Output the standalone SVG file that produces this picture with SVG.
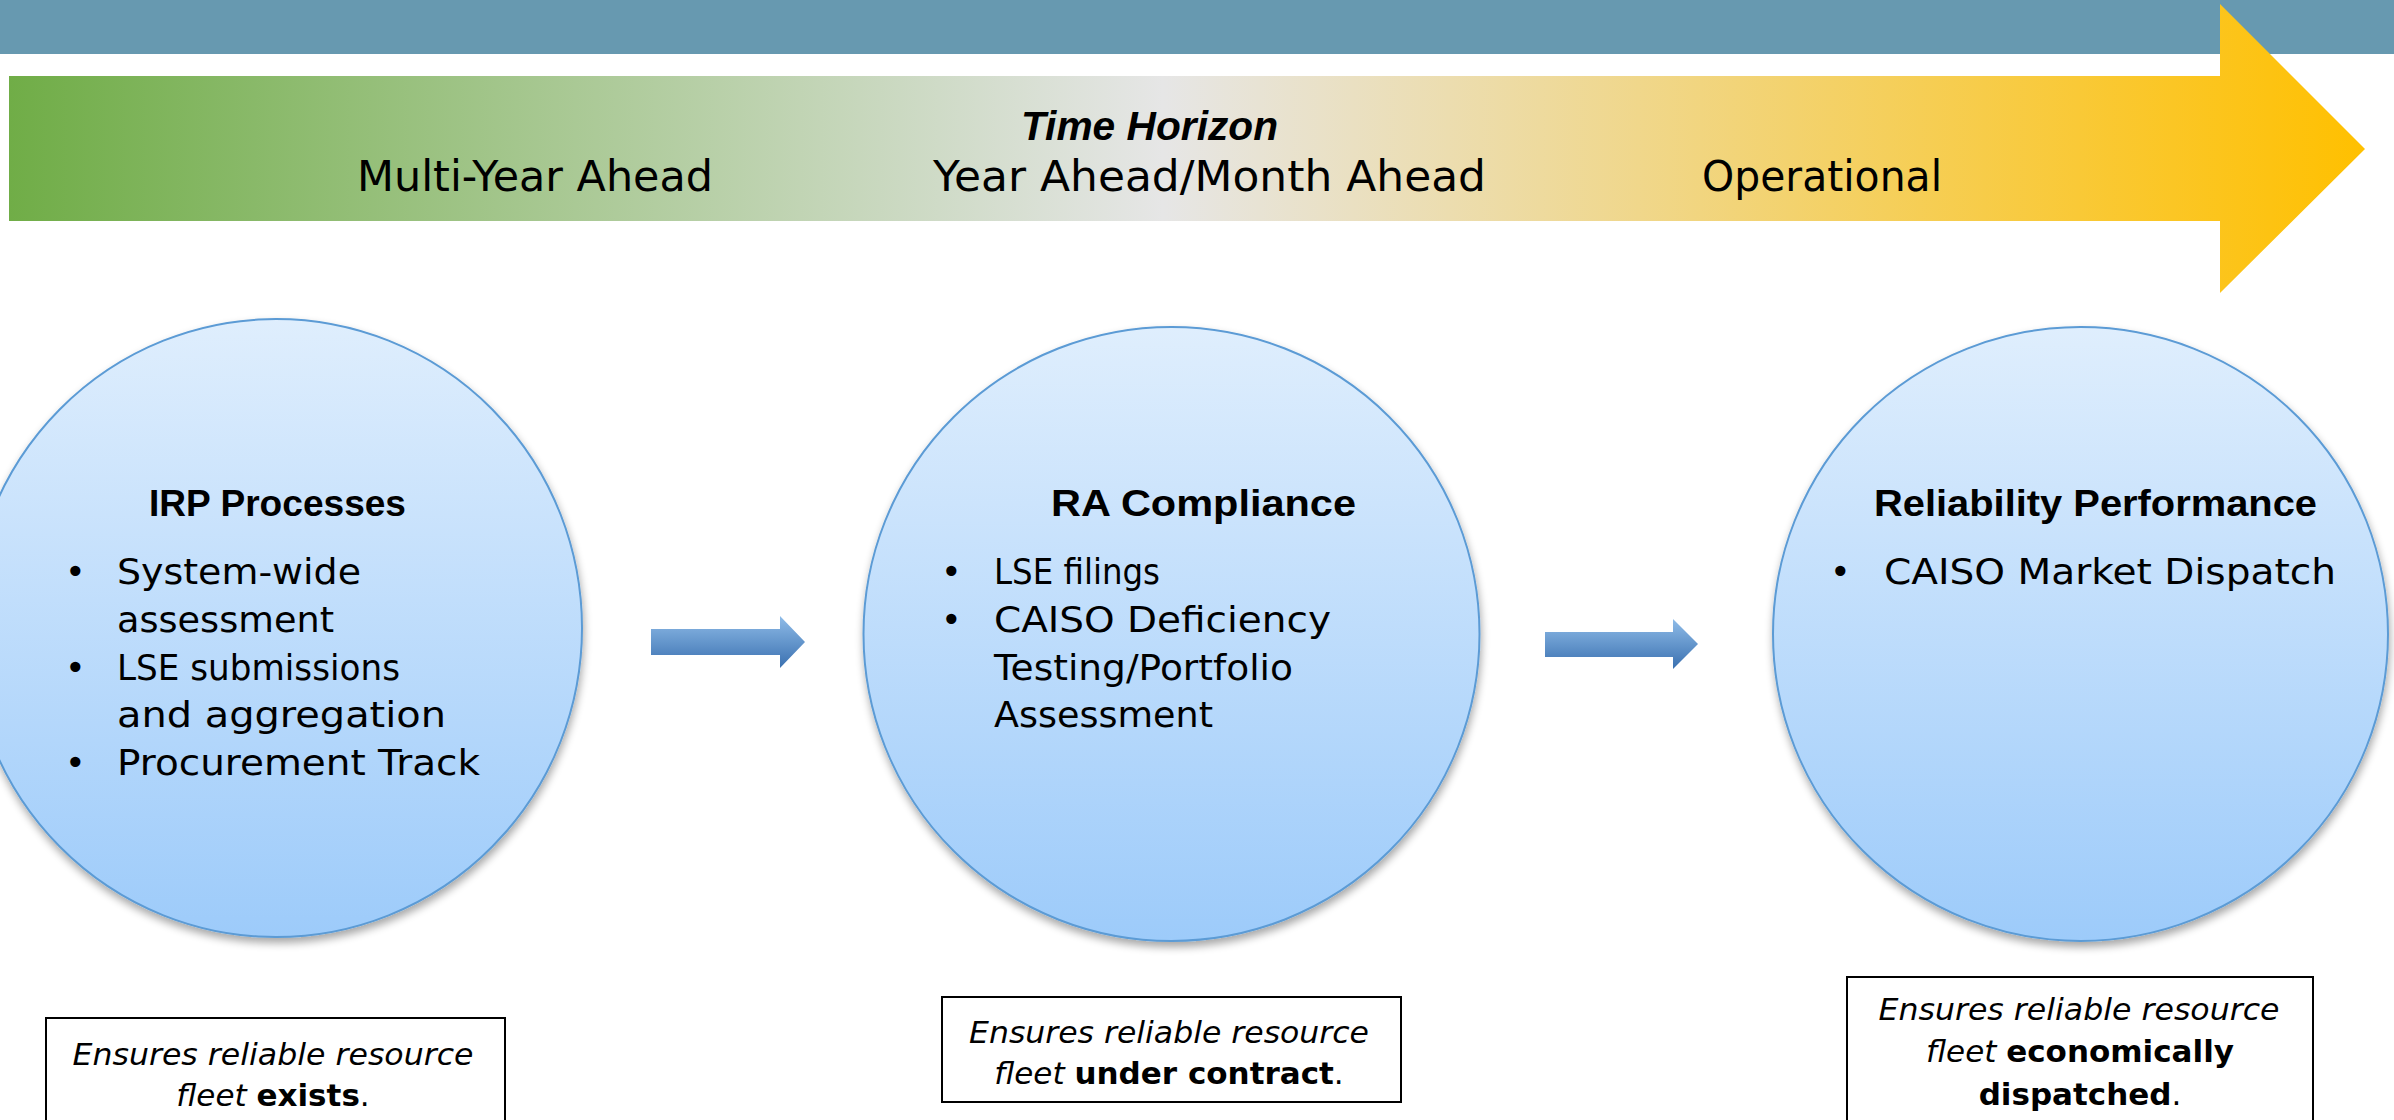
<svg xmlns="http://www.w3.org/2000/svg" width="2394" height="1120" viewBox="0 0 2394 1120">
  <defs>
    <linearGradient id="timeGrad" gradientUnits="userSpaceOnUse" x1="9" y1="0" x2="2364" y2="0">
      <stop offset="0" stop-color="#70AD47"/>
      <stop offset="0.49" stop-color="#E6E6E6"/>
      <stop offset="1" stop-color="#FFC000"/>
    </linearGradient>
    <linearGradient id="bubbleGrad" x1="0" y1="0" x2="0" y2="1">
      <stop offset="0" stop-color="#DFEEFD"/>
      <stop offset="1" stop-color="#9DCBFA"/>
    </linearGradient>
    <linearGradient id="flowGrad" x1="0" y1="0" x2="0" y2="1">
      <stop offset="0" stop-color="#8FBCE8"/>
      <stop offset="1" stop-color="#3A70B0"/>
    </linearGradient>
    <filter id="softShadow" x="-10%" y="-10%" width="120%" height="125%">
      <feGaussianBlur in="SourceAlpha" stdDeviation="4"/>
      <feOffset dx="1" dy="5" result="off"/>
      <feComponentTransfer><feFuncA type="linear" slope="0.35"/></feComponentTransfer>
      <feMerge><feMergeNode/><feMergeNode in="SourceGraphic"/></feMerge>
    </filter>
    <style>
      .bubble { fill: url(#bubbleGrad); stroke: #5B9BD5; stroke-width: 2; filter: url(#softShadow); }
      .head { font-family: "Liberation Sans", Arial, sans-serif; font-weight: bold; font-size: 37px; fill: #000; }
      .body { font-family: "DejaVu Sans", sans-serif; font-size: 35px; fill: #000; }
      .band { font-family: "DejaVu Sans", sans-serif; font-size: 42px; fill: #000; }
      .note { font-family: "DejaVu Sans", sans-serif; font-size: 31px; fill: #000; text-anchor: middle; }
      .it { font-style: italic; }
      .b { font-weight: bold; }
      .box { fill: #FFFFFF; stroke: #000; stroke-width: 2; }
      .flow { fill: url(#flowGrad); }
    </style>
  </defs>

  <!-- header band -->
  <rect x="0" y="0" width="2394" height="54" fill="#6799B0"/>

  <!-- time horizon arrow -->
  <g id="timeline">
    <polygon points="9,76 2220,76 2220,4 2365,149 2220,293 2220,221 9,221" fill="url(#timeGrad)"/>
    <text x="1021" y="140" font-family="'Liberation Sans', Arial, sans-serif" font-weight="bold" font-style="italic" font-size="41" textLength="257" lengthAdjust="spacingAndGlyphs">Time Horizon</text>
    <text class="band" x="357" y="191" textLength="356" lengthAdjust="spacingAndGlyphs">Multi-Year Ahead</text>
    <text class="band" x="933" y="191" textLength="553" lengthAdjust="spacingAndGlyphs">Year Ahead/Month  Ahead</text>
    <text class="band" x="1702" y="191" textLength="240" lengthAdjust="spacingAndGlyphs">Operational</text>
  </g>

  <!-- stage: IRP processes -->
  <g id="irp-processes">
    <ellipse class="bubble" cx="276" cy="628" rx="306" ry="309"/>
    <text class="head" x="149" y="516" textLength="257" lengthAdjust="spacingAndGlyphs">IRP Processes</text>
    <text class="body" x="65" y="584">•</text>
    <text class="body" x="117" y="584" textLength="244" lengthAdjust="spacingAndGlyphs">System-wide</text>
    <text class="body" x="117" y="632" textLength="217" lengthAdjust="spacingAndGlyphs">assessment</text>
    <text class="body" x="65" y="680">•</text>
    <text class="body" x="117" y="680" textLength="283" lengthAdjust="spacingAndGlyphs">LSE submissions</text>
    <text class="body" x="117" y="727" textLength="329" lengthAdjust="spacingAndGlyphs">and aggregation</text>
    <text class="body" x="65" y="775">•</text>
    <text class="body" x="117" y="775" textLength="363" lengthAdjust="spacingAndGlyphs">Procurement Track</text>
  </g>

  <!-- stage: RA compliance -->
  <g id="ra-compliance">
    <ellipse class="bubble" cx="1171.5" cy="634" rx="308" ry="307"/>
    <text class="head" x="1051" y="516" textLength="305" lengthAdjust="spacingAndGlyphs">RA Compliance</text>
    <text class="body" x="941" y="584">•</text>
    <text class="body" x="994" y="584" textLength="166" lengthAdjust="spacingAndGlyphs">LSE filings</text>
    <text class="body" x="941" y="632">•</text>
    <text class="body" x="994" y="632" textLength="337" lengthAdjust="spacingAndGlyphs">CAISO Deficiency</text>
    <text class="body" x="994" y="680" textLength="299" lengthAdjust="spacingAndGlyphs">Testing/Portfolio</text>
    <text class="body" x="994" y="727" textLength="219" lengthAdjust="spacingAndGlyphs">Assessment</text>
  </g>

  <!-- stage: reliability performance -->
  <g id="reliability-performance">
    <ellipse class="bubble" cx="2080.5" cy="634" rx="307.5" ry="307"/>
    <text class="head" x="1874" y="516" textLength="443" lengthAdjust="spacingAndGlyphs">Reliability Performance</text>
    <text class="body" x="1830" y="584">•</text>
    <text class="body" x="1884" y="584" textLength="452" lengthAdjust="spacingAndGlyphs">CAISO Market Dispatch</text>
  </g>

  <!-- flow between stages -->
  <g id="connectors">
    <polygon class="flow" points="651,629 780,629 780,616 805,642 780,668 780,655 651,655"/>
    <polygon class="flow" points="1545,632 1673,632 1673,619 1698,644 1673,669 1673,657 1545,657"/>
  </g>

  <!-- outcome notes -->
  <g id="note-exists">
    <rect class="box" x="46" y="1018" width="459" height="130"/>
    <text class="note it" x="273" y="1065" textLength="401" lengthAdjust="spacingAndGlyphs">Ensures reliable resource</text>
    <text class="note" x="273" y="1106"><tspan class="it">fleet </tspan><tspan class="b">exists</tspan>.</text>
  </g>

  <g id="note-contract">
    <rect class="box" x="942" y="997" width="459" height="105"/>
    <text class="note it" x="1169" y="1043" textLength="400" lengthAdjust="spacingAndGlyphs">Ensures reliable resource</text>
    <text class="note" x="1169" y="1084"><tspan class="it">fleet </tspan><tspan class="b">under contract</tspan>.</text>
  </g>

  <g id="note-dispatch">
    <rect class="box" x="1847" y="977" width="466" height="170"/>
    <text class="note it" x="2079" y="1020" textLength="401" lengthAdjust="spacingAndGlyphs">Ensures reliable resource</text>
    <text class="note" x="2080" y="1062"><tspan class="it">fleet </tspan><tspan class="b">economically</tspan></text>
    <text class="note" x="2080" y="1105"><tspan class="b">dispatched</tspan>.</text>
  </g>
</svg>
